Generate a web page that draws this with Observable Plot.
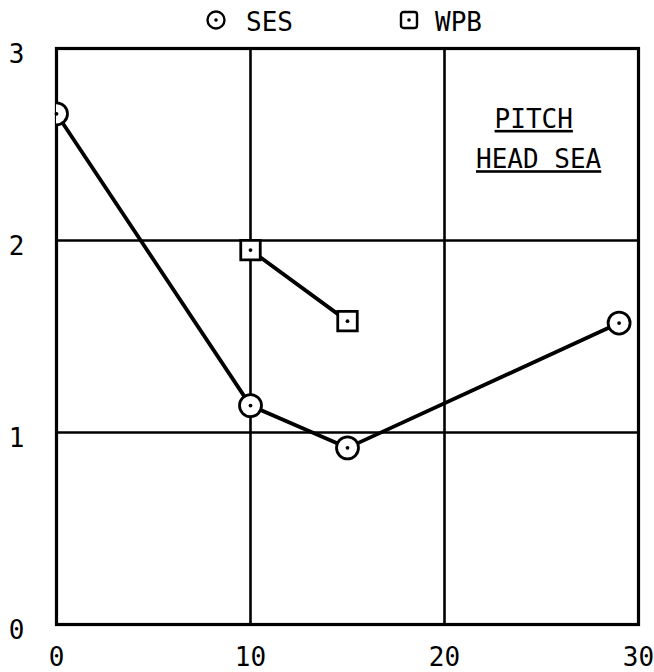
<!DOCTYPE html>
<html>
<head>
<meta charset="utf-8">
<script src="https://cdn.jsdelivr.net/npm/d3@7"></script>
<script src="https://cdn.jsdelivr.net/npm/@observablehq/plot@0.6"></script>
<style>
  body { margin: 0; background: #fff; font-family: "DejaVu Sans Mono", monospace; }
  #legend { height: 36px; position: relative; font-size: 26px; color: #000; }
  .item { position: absolute; top: 7px; display: flex; align-items: center; line-height: 30px; }
  svg { display: block; }
</style>
</head>
<body>
<div id="legend"></div>
<div id="chart"></div>
<script>
const sesX = [0, 10, 15, 29];
const sesY = [2.66, 1.14, 0.92, 1.57];
const wpbX = [10, 15];
const wpbY = [1.95, 1.58];
const xTicks = [0, 10, 20, 30];
const yTicks = [0, 1, 2, 3];
const seriesNames = ["SES", "WPB"];
const notes = ["PITCH", "HEAD SEA"];
const noteX = [24.6, 24.85];
const noteY = [2.63, 2.42];

const ses = sesX.map((x, i) => ({x, y: sesY[i]}));
const wpb = wpbX.map((x, i) => ({x, y: wpbY[i]}));
const noteData = notes.map((t, i) => ({t, x: noteX[i], y: noteY[i]}));

// Legend
const legend = document.getElementById("legend");
const lg = [
  {name: seriesNames[0], left: 206, gap: 20, sym: '<circle cx="10" cy="10" r="8.5" fill="#fff" stroke="#000" stroke-width="2.4"/><circle cx="10" cy="10" r="1.8" fill="#000"/>'},
  {name: seriesNames[1], left: 399, gap: 16, sym: '<rect x="2" y="2" width="16" height="16" rx="2.5" fill="#fff" stroke="#000" stroke-width="2.4"/><circle cx="10" cy="10" r="1.8" fill="#000"/>'}
];
for (const l of lg) {
  const d = document.createElement("div");
  d.className = "item";
  d.style.left = l.left + "px";
  d.style.gap = l.gap + "px";
  d.innerHTML = `<svg width="20" height="20" style="margin-top:-4px">${l.sym}</svg><span>${l.name}</span>`;
  legend.appendChild(d);
}

const font = '"DejaVu Sans Mono", monospace';
const plot = Plot.plot({
  width: 654,
  height: 636,
  marginTop: 12,
  marginBottom: 48,
  marginLeft: 56,
  marginRight: 16,
  style: {fontFamily: font, fontSize: "26px", color: "#000", background: "#fff"},
  x: {domain: [0, 30], ticks: xTicks},
  y: {domain: [0, 3], ticks: yTicks},
  marks: [
    Plot.ruleX([10, 20], {stroke: "#000", strokeWidth: 2.6}),
    Plot.ruleY([1, 2], {stroke: "#000", strokeWidth: 2.6}),
    Plot.frame({stroke: "#000", strokeWidth: 3.2}),
    Plot.axisX({ticks: xTicks, tickSize: 0, tickPadding: 23, fontSize: 26, tickFormat: "d", label: null}),
    Plot.axisY({ticks: yTicks, tickSize: 0, tickPadding: 32, fontSize: 26, tickFormat: "d", dy: 6, label: null}),
    Plot.line(ses, {x: "x", y: "y", stroke: "#000", strokeWidth: 3.8}),
    Plot.line(wpb, {x: "x", y: "y", stroke: "#000", strokeWidth: 3.8}),
    Plot.dot(ses, {x: "x", y: "y", r: 11, fill: "#fff", stroke: "#000", strokeWidth: 2.8, clip: "frame"}),
    Plot.dot(ses, {x: "x", y: "y", r: 1.9, fill: "#000", clip: "frame"}),
    Plot.dot(wpb, {x: "x", y: "y", symbol: "square", r: 11, fill: "#fff", stroke: "#000", strokeWidth: 2.8}),
    Plot.dot(wpb, {x: "x", y: "y", r: 1.9, fill: "#000"}),
    Plot.text(noteData, {x: "x", y: "y", text: "t", fontSize: 26, fill: "#000", className: "note"})
  ]
});
d3.select(plot).selectAll(".note text").attr("text-decoration", "underline");
document.getElementById("chart").appendChild(plot);
</script>
</body>
</html>
